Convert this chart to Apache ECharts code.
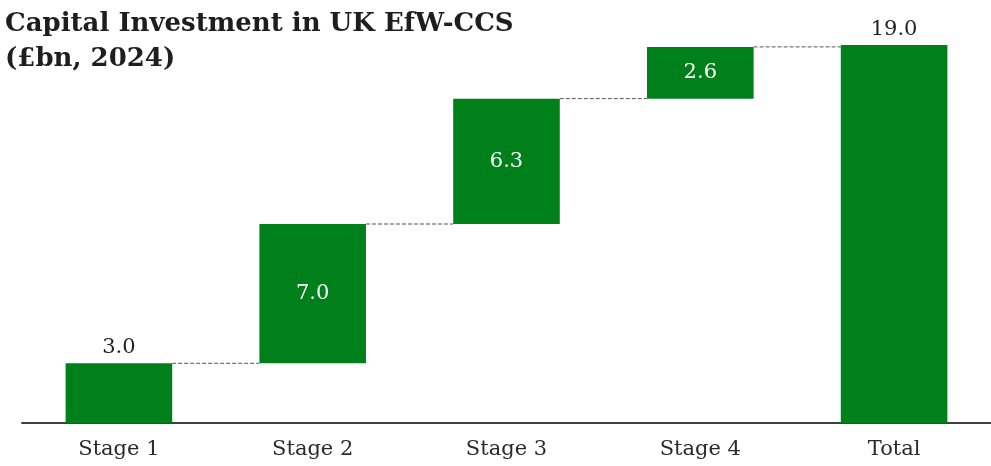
<!DOCTYPE html>
<html>
<head>
<meta charset="utf-8">
<script src="https://cdn.jsdelivr.net/npm/echarts@6/dist/echarts.min.js"></script>
<style>
  html, body { margin: 0; padding: 0; background: #fff; }
  #chart { width: 991px; height: 466px; }
</style>
</head>
<body>
<div id="chart"></div>
<script>
const categories = ["Stage 1", "Stage 2", "Stage 3", "Stage 4", "Total"]
const steps = [3.0, 7.0, 6.3, 2.6]
const total = 19.0

// running bases for the floating bars
const bases = []
let run = 0
steps.forEach((v) => { bases.push(run); run += v })
bases.push(0)
const heights = steps.concat([total])
// connector levels: top of each bar, drawn to the next one
const levels = steps.map((v, i) => [i, bases[i] + v])

const green = "#00801a"
const barPct = 0.55
const serif = "DejaVu Serif"

const chart = echarts.init(document.getElementById("chart"))

chart.setOption({
  animation: false,
  title: {
    text: "Capital Investment in UK EfW-CCS\n(£bn, 2024)",
    left: 0,
    top: 2,
    textStyle: { fontFamily: serif, fontSize: 26, fontWeight: "bold", color: "#1e1e1e", lineHeight: 35 },
  },
  grid: { left: 22, right: 0, top: 25, bottom: 43 },
  xAxis: {
    type: "category",
    data: categories,
    axisTick: { show: false },
    axisLine: { lineStyle: { color: "#404040", width: 2 } },
    axisLabel: { fontFamily: serif, fontSize: 21, color: "#2a2a2a", margin: 16 },
  },
  yAxis: { type: "value", min: 0, max: 20, show: false, splitLine: { show: false } },
  series: [
    {
      type: "bar",
      stack: "w",
      data: bases,
      barWidth: barPct * 100 + "%",
      itemStyle: { color: "transparent" },
      silent: true,
    },
    {
      type: "bar",
      stack: "w",
      data: heights.map((v, i) => ({
        value: v,
        label: (i === 0 || i === heights.length - 1)
          ? { position: "top", color: "#222", distance: 5 }
          : { position: "inside", color: "#fff" },
      })),
      itemStyle: { color: green },
      label: {
        show: true,
        fontFamily: serif,
        fontSize: 21,
        formatter: (p) => p.value.toFixed(1),
      },
    },
    {
      type: "custom",
      data: levels,
      silent: true,
      z: 3,
      renderItem: (params, api) => {
        const p = api.coord([api.value(0), api.value(1)])
        const band = api.size([1, 0])[0]
        const half = band * barPct / 2
        return {
          type: "line",
          shape: { x1: p[0] + half, y1: p[1], x2: p[0] + band - half, y2: p[1] },
          style: { stroke: "#555", lineWidth: 1, lineDash: [4, 2] },
        }
      },
    },
  ],
})
</script>
</body>
</html>
